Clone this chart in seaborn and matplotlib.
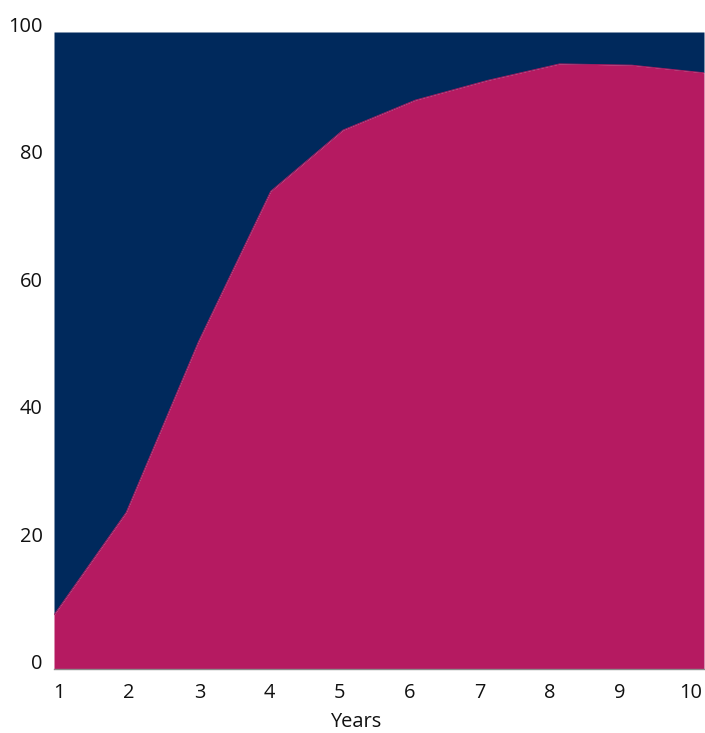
import numpy as np
import pandas as pd
import matplotlib
matplotlib.use("Agg")
import matplotlib.pyplot as plt
import seaborn as sns

# ---- data ----
years = [1, 2, 3, 4, 5, 6, 7, 8, 9, 10]
share = [8.5, 24.6, 51.4, 75.0, 84.6, 89.3, 92.4, 95.0, 94.8, 93.6]
total = [100] * 10
tick_labels = ["1", "2", "3", "4", "5", "6", "7", "8", "9", "10"]
y_ticks = [0, 20, 40, 60, 80, 100]

MAGENTA = "#B51A61"
NAVY = "#00295C"
TEXT = "#111111"

sns.set_theme(style="white")
plt.rcParams["font.family"] = ["Open Sans", "DejaVu Sans"]

df = pd.DataFrame({"Years": years, "share": share, "total": total})

fig = plt.figure(figsize=(7.05, 7.33), dpi=100)
ax = fig.add_axes([54 / 705, 1 - 669 / 733, 650 / 705, 637 / 733])

ax.fill_between(df["Years"], df["share"], df["total"], color=NAVY, linewidth=0)
ax.fill_between(df["Years"], 0, df["share"], color=MAGENTA, linewidth=0)
sns.lineplot(data=df, x="Years", y="share", ax=ax, color=MAGENTA, linewidth=0.6)

ax.set_xlim(1, 10)
ax.set_ylim(0, 100)

# label positions (slightly compressed relative to data positions, as in reference)
lab_pos = np.linspace(1.07, 9.81, len(tick_labels))
ax.set_xticks(lab_pos)
ax.set_xticklabels(tick_labels, fontsize=14.4, color=TEXT)
ax.set_yticks(y_ticks)
ax.set_yticklabels([str(v) for v in y_ticks], fontsize=14.4, color=TEXT,
                   va="baseline")
ax.tick_params(axis="x", length=0, pad=10)
ax.tick_params(axis="y", length=0, pad=8)

ax.set_xlabel("Years", fontsize=14.4, color=TEXT)
ax.set_ylabel("")
ax.xaxis.set_label_coords((356 - 54) / 650, -0.068)

for s in ["top", "right", "left"]:
    ax.spines[s].set_visible(False)
ax.spines["bottom"].set_color("#8a8a8a")
ax.spines["bottom"].set_linewidth(1.0)

fig.savefig("out.png", dpi=100)
